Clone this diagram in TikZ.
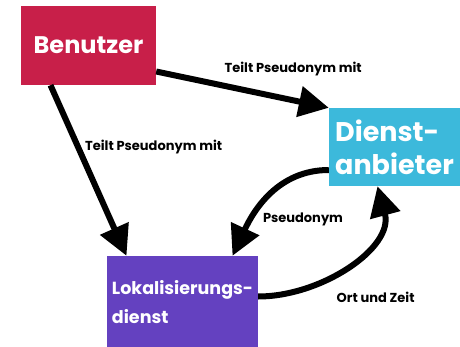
\documentclass[tikz,border=0pt]{standalone}
\usepackage{fontspec}
\setmainfont{Poppins}
\usepackage{tikz}
\usetikzlibrary{arrows.meta,positioning,calc}
\definecolor{crimson}{HTML}{C81F49}
\definecolor{skyblue}{HTML}{3CB9DB}
\definecolor{violet}{HTML}{6441C0}

\begin{document}
\begin{tikzpicture}[
  x=1pt,y=-1pt,
  every node/.style={align=left},
  role/.style={inner sep=0pt,text=white,font=\bfseries},
  lbl/.style={font=\bfseries\fontsize{13}{15}\selectfont,text=black},
  arr/.style={-{Triangle[length=30pt,width=30pt]},line width=6pt,color=black}
]
\useasboundingbox (0,0) rectangle (460,347);
\node[role,fill=crimson,minimum width=135,minimum height=79,font=\bfseries\fontsize{24}{28}\selectfont] (user) at (88.5,45.5) {Benutzer};
\node[role,fill=skyblue,minimum width=131,minimum height=78,font=\bfseries\fontsize{27}{33}\selectfont] (provider) at (394.5,147) {Dienst-\\anbieter};
\node[role,fill=violet,minimum width=151,minimum height=91,text depth=-4pt,font=\bfseries\fontsize{17.5}{29}\selectfont] (locator) at (182.5,301.5) {Lokalisierungs-\\dienst};
\draw[arr] ([yshift=-26pt]user.east) -- node[lbl,pos=0.36,anchor=south west,yshift=2pt]{Teilt Pseudonym mit} (provider.north west);
\draw[arr] ([xshift=-38pt]user.south) -- node[lbl,pos=0.36,right=1pt]{Teilt Pseudonym mit} ([xshift=-56pt]locator.north);
\draw[arr] ([yshift=-23pt]provider.west) to[out=180,in=65] node[lbl,pos=0.72,right=5pt]{Pseudonym} ([xshift=50pt]locator.north);
\draw[arr] ([yshift=5pt]locator.east) to[out=0,in=-75] node[lbl,pos=0.45,anchor=north west,xshift=-10pt,yshift=-16pt]{Ort und Zeit} ([xshift=-17pt]provider.south);
\end{tikzpicture}
\end{document}
